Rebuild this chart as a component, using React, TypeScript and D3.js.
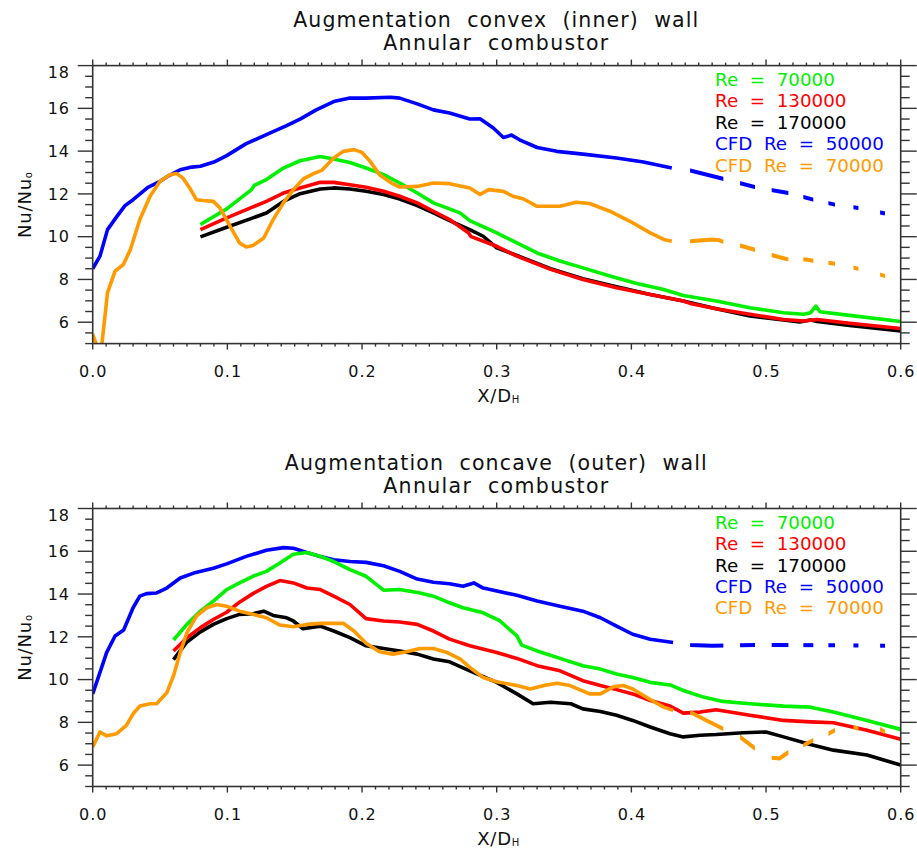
import React from "react";
import * as d3 from "d3";

type Pt = [number, number];

// ---- data ----
const xMajor = [0, 0.1, 0.2, 0.3, 0.4, 0.5, 0.6];
const yMajor = [6, 8, 10, 12, 14, 16, 18];
const legendLabels = ["Re  =  70000", "Re  =  130000", "Re  =  170000", "CFD  Re  =  50000", "CFD  Re  =  70000"];
const legendColors = ["#00f000", "#ff0000", "#000000", "#0000ff", "#ff9a00"];
// x-intervals where the dashed CFD extrapolation is drawn
const dashSpans: Pt[] = [
  [0.4436, 0.4683], [0.4807, 0.4918], [0.5042, 0.5166], [0.5277, 0.5351],
  [0.5463, 0.5512], [0.5649, 0.5686], [0.5847, 0.5884],
];

// convex (inner) wall
const convexCfd50: Pt[] = [
  [0, 8.5], [0.0054, 9.09], [0.011, 10.33], [0.018, 10.95], [0.024, 11.45], [0.03, 11.73], [0.041, 12.31],
  [0.05, 12.59], [0.057, 12.87], [0.065, 13.13], [0.072, 13.24], [0.08, 13.29], [0.09, 13.49], [0.0995, 13.79],
  [0.114, 14.35], [0.129, 14.77], [0.144, 15.19], [0.154, 15.5], [0.166, 15.93], [0.179, 16.32], [0.191, 16.48],
  [0.203, 16.48], [0.221, 16.52], [0.228, 16.48], [0.241, 16.21], [0.253, 15.93], [0.265, 15.78], [0.28, 15.5],
  [0.2876, 15.51], [0.2975, 15.08], [0.305, 14.64], [0.311, 14.75], [0.317, 14.53], [0.33, 14.17], [0.3446, 13.99],
  [0.364, 13.86], [0.389, 13.68], [0.409, 13.49], [0.43, 13.21],
];
const convexCfd50Ext: Pt[] = [
  [0.43, 13.21], [0.4436, 13.1], [0.468, 12.71], [0.4918, 12.32], [0.5166, 12.04], [0.535, 11.73],
  [0.551, 11.5], [0.5686, 11.34], [0.5884, 11.08],
];
const convexCfd70: Pt[] = [
  [0, 5.45], [0.003, 4.9], [0.005, 4.7], [0.0067, 4.9], [0.011, 7.38], [0.0166, 8.39], [0.0228, 8.7], [0.028, 9.4],
  [0.035, 10.8], [0.0426, 11.89], [0.05, 12.59], [0.0574, 12.9], [0.0624, 12.95], [0.067, 12.74], [0.072, 12.28],
  [0.077, 11.73], [0.082, 11.69], [0.0896, 11.65], [0.0946, 11.34], [0.102, 10.49], [0.109, 9.71], [0.114, 9.52],
  [0.119, 9.59], [0.127, 9.94], [0.134, 10.8], [0.1416, 11.58], [0.149, 12.2], [0.1564, 12.7], [0.164, 12.95],
  [0.17, 13.1], [0.179, 13.68], [0.186, 13.99], [0.194, 14.07], [0.2, 13.94], [0.206, 13.52], [0.213, 12.9],
  [0.221, 12.54], [0.228, 12.32], [0.241, 12.35], [0.253, 12.51], [0.265, 12.48], [0.28, 12.28], [0.2876, 11.97],
  [0.294, 12.2], [0.305, 12.12], [0.312, 11.89], [0.32, 11.76], [0.33, 11.42], [0.347, 11.42], [0.359, 11.61],
  [0.369, 11.55], [0.384, 11.19], [0.399, 10.72], [0.414, 10.18], [0.424, 9.87], [0.43, 9.79],
];
const convexCfd70Ext: Pt[] = [
  [0.43, 9.79], [0.4436, 9.79], [0.46, 9.87], [0.465, 9.84], [0.474, 9.63], [0.48, 9.6], [0.491, 9.4],
  [0.5, 9.21], [0.515, 8.96], [0.53, 8.93], [0.537, 8.85], [0.556, 8.7], [0.575, 8.39], [0.593, 8.08],
];
const convexRe70: Pt[] = [
  [0.08, 10.57], [0.0995, 11.3], [0.118, 12.2], [0.12, 12.4], [0.129, 12.67], [0.1416, 13.21], [0.154, 13.55],
  [0.169, 13.75], [0.179, 13.63], [0.191, 13.47], [0.203, 13.21], [0.216, 12.9], [0.228, 12.51], [0.241, 12.04],
  [0.253, 11.58], [0.2727, 11.11], [0.28, 10.75], [0.3, 10.18], [0.315, 9.71], [0.33, 9.24], [0.347, 8.86],
  [0.364, 8.54], [0.384, 8.16], [0.404, 7.81], [0.424, 7.53], [0.4386, 7.25], [0.463, 6.99], [0.488, 6.68],
  [0.513, 6.44], [0.528, 6.37], [0.533, 6.44], [0.537, 6.75], [0.54, 6.49], [0.562, 6.32], [0.6, 6.03],
];
const convexRe130: Pt[] = [
  [0.08, 10.33], [0.0995, 10.88], [0.119, 11.39], [0.129, 11.65], [0.1416, 12.04], [0.154, 12.28], [0.169, 12.54],
  [0.179, 12.54], [0.191, 12.43], [0.203, 12.31], [0.216, 12.12], [0.228, 11.89], [0.241, 11.58], [0.253, 11.19],
  [0.265, 10.8], [0.279, 10.18], [0.281, 10.0], [0.3, 9.55], [0.315, 9.09], [0.34, 8.47], [0.364, 8.0],
  [0.389, 7.61], [0.414, 7.3], [0.4386, 6.99], [0.4436, 6.88], [0.463, 6.63], [0.488, 6.37], [0.513, 6.13],
  [0.528, 6.06], [0.538, 6.13], [0.562, 5.95], [0.6, 5.71],
];
const convexRe170: Pt[] = [
  [0.08, 9.99], [0.0995, 10.44], [0.119, 10.88], [0.129, 11.11], [0.1416, 11.65], [0.154, 12.01], [0.169, 12.23],
  [0.179, 12.28], [0.191, 12.23], [0.203, 12.12], [0.216, 11.97], [0.228, 11.76], [0.241, 11.45], [0.253, 11.11],
  [0.265, 10.75], [0.28, 10.33], [0.29, 10.02], [0.3, 9.48], [0.315, 9.12], [0.34, 8.5], [0.364, 8.03],
  [0.389, 7.66], [0.414, 7.3], [0.4386, 6.99], [0.463, 6.63], [0.488, 6.29], [0.513, 6.1], [0.525, 6.01],
  [0.533, 6.1], [0.538, 6.03], [0.562, 5.85], [0.6, 5.59],
];

// concave (outer) wall
const concaveCfd50: Pt[] = [
  [0, 9.33], [0.0054, 10.34], [0.0104, 11.27], [0.0166, 12.04], [0.023, 12.32], [0.03, 13.36], [0.035, 13.9],
  [0.04, 14.02], [0.0475, 14.05], [0.055, 14.28], [0.065, 14.75], [0.075, 14.98], [0.0896, 15.21], [0.0995, 15.41],
  [0.114, 15.76], [0.129, 16.05], [0.1416, 16.17], [0.149, 16.14], [0.159, 15.94], [0.169, 15.76], [0.179, 15.6],
  [0.191, 15.52], [0.203, 15.48], [0.216, 15.32], [0.228, 15.06], [0.241, 14.7], [0.253, 14.55], [0.265, 14.48],
  [0.275, 14.36], [0.283, 14.52], [0.29, 14.28], [0.315, 13.94], [0.33, 13.67], [0.347, 13.43], [0.364, 13.2],
  [0.377, 12.89], [0.389, 12.5], [0.401, 12.12], [0.414, 11.89], [0.431, 11.73],
];
const concaveCfd50Ext: Pt[] = [
  [0.431, 11.73], [0.4436, 11.62], [0.46, 11.58], [0.5, 11.62], [0.55, 11.6], [0.5884, 11.58],
];
const concaveCfd70: Pt[] = [
  [0, 6.85], [0.0054, 7.55], [0.0104, 7.37], [0.0178, 7.47], [0.025, 7.86], [0.03, 8.4], [0.035, 8.76],
  [0.0426, 8.87], [0.0475, 8.87], [0.055, 9.38], [0.06, 10.18], [0.065, 11.27], [0.07, 12.2], [0.077, 12.97],
  [0.0847, 13.36], [0.092, 13.51], [0.0995, 13.43], [0.109, 13.2], [0.119, 13.05], [0.129, 12.89], [0.139, 12.55],
  [0.149, 12.47], [0.159, 12.58], [0.169, 12.63], [0.186, 12.63], [0.194, 12.27], [0.203, 11.7], [0.213, 11.3],
  [0.223, 11.19], [0.233, 11.3], [0.243, 11.45], [0.253, 11.45], [0.263, 11.27], [0.273, 10.96], [0.28, 10.57],
  [0.29, 10.1], [0.3, 9.9], [0.315, 9.72], [0.325, 9.56], [0.335, 9.72], [0.3446, 9.83], [0.3545, 9.72],
  [0.369, 9.33], [0.377, 9.33], [0.387, 9.67], [0.394, 9.72], [0.401, 9.56], [0.414, 9.07], [0.424, 8.71],
  [0.431, 8.56],
];
const concaveCfd70Ext: Pt[] = [
  [0.431, 8.56], [0.4436, 8.48], [0.468, 7.7], [0.4807, 7.32], [0.4918, 6.78], [0.5042, 6.34], [0.51, 6.31],
  [0.5166, 6.6], [0.5277, 6.93], [0.5351, 7.16], [0.5463, 7.47], [0.5512, 7.63], [0.5649, 7.78], [0.5686, 7.7],
  [0.5847, 7.68], [0.5884, 7.55],
];
const concaveRe70: Pt[] = [
  [0.06, 11.85], [0.07, 12.58], [0.08, 13.2], [0.0896, 13.67], [0.0995, 14.21], [0.109, 14.52], [0.119, 14.83],
  [0.129, 15.06], [0.139, 15.45], [0.149, 15.86], [0.159, 15.94], [0.169, 15.76], [0.179, 15.52], [0.191, 15.14],
  [0.203, 14.83], [0.216, 14.18], [0.228, 14.21], [0.243, 14.05], [0.253, 13.9], [0.265, 13.59], [0.275, 13.36],
  [0.29, 13.12], [0.3025, 12.74], [0.315, 12.04], [0.3186, 11.61], [0.33, 11.34], [0.347, 10.99], [0.364, 10.65],
  [0.377, 10.49], [0.389, 10.26], [0.401, 10.1], [0.414, 9.87], [0.4287, 9.75], [0.4386, 9.49], [0.4535, 9.18],
  [0.468, 8.98], [0.488, 8.87], [0.513, 8.76], [0.533, 8.71], [0.55, 8.48], [0.575, 8.09], [0.6, 7.67],
];
const concaveRe130: Pt[] = [
  [0.06, 11.34], [0.07, 11.96], [0.08, 12.43], [0.0896, 12.81], [0.0995, 13.15], [0.109, 13.62], [0.119, 14.02],
  [0.129, 14.36], [0.139, 14.63], [0.149, 14.52], [0.159, 14.28], [0.169, 14.21], [0.179, 13.9], [0.191, 13.51],
  [0.203, 12.85], [0.216, 12.74], [0.228, 12.69], [0.241, 12.58], [0.253, 12.27], [0.265, 11.89], [0.28, 11.58],
  [0.3, 11.27], [0.315, 10.99], [0.33, 10.65], [0.347, 10.41], [0.364, 9.95], [0.377, 9.72], [0.389, 9.53],
  [0.401, 9.33], [0.414, 9.02], [0.4287, 8.76], [0.4386, 8.43], [0.451, 8.48], [0.463, 8.59], [0.488, 8.33],
  [0.513, 8.09], [0.533, 8.02], [0.55, 7.98], [0.575, 7.63], [0.6, 7.21],
];
const concaveRe170: Pt[] = [
  [0.06, 10.93], [0.07, 11.76], [0.08, 12.23], [0.0896, 12.58], [0.0995, 12.85], [0.109, 13.05], [0.119, 13.08],
  [0.127, 13.2], [0.134, 13.0], [0.144, 12.89], [0.149, 12.74], [0.156, 12.38], [0.169, 12.5], [0.179, 12.27],
  [0.191, 11.96], [0.203, 11.58], [0.216, 11.45], [0.228, 11.34], [0.241, 11.19], [0.253, 10.96], [0.265, 10.83],
  [0.28, 10.41], [0.3, 9.87], [0.315, 9.33], [0.327, 8.87], [0.34, 8.94], [0.355, 8.87], [0.364, 8.63],
  [0.377, 8.51], [0.389, 8.33], [0.401, 8.09], [0.414, 7.78], [0.4287, 7.47], [0.4386, 7.32], [0.451, 7.4],
  [0.463, 7.43], [0.483, 7.51], [0.5, 7.55], [0.513, 7.32], [0.533, 6.96], [0.55, 6.7], [0.575, 6.47], [0.6, 6.0],
];

const W = 917;
const H = 850;
const LEFT = 92.7;
const RIGHT = 900.7;
const PH = 278;
const FONT = "'DejaVu Sans', sans-serif";
const AXIS = "#333";

type PanelProps = {
  id: string;
  top: number;
  title: string;
  titleWidth: number;
  cfd50: Pt[];
  cfd50Ext: Pt[];
  cfd70: Pt[];
  cfd70Ext: Pt[];
  re70: Pt[];
  re130: Pt[];
  re170: Pt[];
};

function Panel(p: PanelProps) {
  const x = d3.scaleLinear().domain([0, 0.6]).range([LEFT, RIGHT]);
  const y = d3.scaleLinear().domain([5, 18]).range([p.top + PH, p.top]);
  const line = d3.line<Pt>().x((d) => x(d[0])).y((d) => y(d[1]));
  const bottom = p.top + PH;
  const xMinor = d3.range(0, 61).map((i) => i / 100);
  const yMinor = d3.range(10, 37).map((i) => i / 2);
  const mid = (LEFT + RIGHT) / 2;

  const solid = [
    { d: p.cfd50, c: legendColors[3] },
    { d: p.re170, c: legendColors[2] },
    { d: p.re130, c: legendColors[1] },
    { d: p.re70, c: legendColors[0] },
    { d: p.cfd70, c: legendColors[4] },
  ];
  const ext = [
    { d: p.cfd50Ext, c: legendColors[3] },
    { d: p.cfd70Ext, c: legendColors[4] },
  ];

  return (
    <g>
      <defs>
        <clipPath id={`plot-${p.id}`}>
          <rect x={LEFT} y={p.top} width={RIGHT - LEFT} height={PH} />
        </clipPath>
        <clipPath id={`dash-${p.id}`}>
          {dashSpans.map((s, i) => (
            <rect key={i} x={x(s[0])} y={p.top} width={x(s[1]) - x(s[0])} height={PH} />
          ))}
        </clipPath>
      </defs>

      {/* title */}
      <text x={mid - 1} y={p.top - 38.5} textAnchor="middle" fontSize={20.5} fill="#111"
        xmlSpace="preserve" textLength={p.titleWidth} lengthAdjust="spacing">{p.title}</text>
      <text x={mid - 1} y={p.top - 15.8} textAnchor="middle" fontSize={20.5} fill="#111"
        xmlSpace="preserve" textLength={225} lengthAdjust="spacing">{"Annular  combustor"}</text>

      {/* curves */}
      <g clipPath={`url(#plot-${p.id})`} fill="none" strokeLinejoin="round">
        {solid.map((s, i) => (
          <path key={i} d={line(s.d) || ""} stroke={s.c} strokeWidth={3.6} />
        ))}
      </g>
      <g clipPath={`url(#dash-${p.id})`} fill="none">
        {ext.map((s, i) => (
          <path key={i} d={line(s.d) || ""} stroke={s.c} strokeWidth={4} />
        ))}
      </g>

      {/* frame */}
      <rect x={LEFT} y={p.top} width={RIGHT - LEFT} height={PH} fill="none" stroke={AXIS} strokeWidth={1.6} />

      {/* ticks on all four sides, pointing outward */}
      <g stroke={AXIS} strokeWidth={1.4}>
        {xMinor.map((v, i) => {
          const len = i % 10 === 0 ? 6 : 3;
          return (
            <g key={i}>
              <line x1={x(v)} x2={x(v)} y1={bottom} y2={bottom + len} />
              <line x1={x(v)} x2={x(v)} y1={p.top} y2={p.top - len} />
            </g>
          );
        })}
        {yMinor.map((v, i) => {
          const major = v % 2 === 0;
          return (
            <g key={i}>
              <line x1={LEFT} x2={LEFT - (major ? 15 : 7.5)} y1={y(v)} y2={y(v)} />
              <line x1={RIGHT} x2={RIGHT + (major ? 16 : 9)} y1={y(v)} y2={y(v)} />
            </g>
          );
        })}
      </g>

      {/* tick labels */}
      <g fontSize={16} fill="#111" letterSpacing={1}>
        {xMajor.map((v) => (
          <text key={v} x={x(v) + 0.5} y={bottom + 33.5} textAnchor="middle">{d3.format(".1f")(v)}</text>
        ))}
        {yMajor.map((v) => (
          <text key={v} x={70} y={Math.max(y(v), p.top + 7) + 5.8} textAnchor="end">{v}</text>
        ))}
      </g>

      {/* axis titles */}
      <text x={mid + 2} y={bottom + 58} textAnchor="middle" fontSize={18} fill="#111" letterSpacing={0.8}>
        X/D<tspan fontSize={10} dy={1}>H</tspan>
      </text>
      <text transform={`translate(31,${(p.top + bottom) / 2}) rotate(-90)`} textAnchor="middle"
        fontSize={18} fill="#111" letterSpacing={0.8}>
        Nu/Nu<tspan fontSize={10} dy={1}>o</tspan>
      </text>

      {/* legend */}
      <g fontSize={18.3}>
        {legendLabels.map((t, i) => (
          <text key={t} x={715} y={p.top + 20.3 + i * 21.4} fill={legendColors[i]} xmlSpace="preserve">{t}</text>
        ))}
      </g>
    </g>
  );
}

export default function App() {
  return (
    <svg width={W} height={H} style={{ position: "absolute", left: 0, top: 0, background: "#fff" }}
      fontFamily={FONT}>
      <rect width={W} height={H} fill="#fff" />
      <Panel id="convex" top={65.6} title="Augmentation  convex  (inner)  wall" titleWidth={405}
        cfd50={convexCfd50} cfd50Ext={convexCfd50Ext} cfd70={convexCfd70} cfd70Ext={convexCfd70Ext}
        re70={convexRe70} re130={convexRe130} re170={convexRe170} />
      <Panel id="concave" top={508.5} title="Augmentation  concave  (outer)  wall" titleWidth={422}
        cfd50={concaveCfd50} cfd50Ext={concaveCfd50Ext} cfd70={concaveCfd70} cfd70Ext={concaveCfd70Ext}
        re70={concaveRe70} re130={concaveRe130} re170={concaveRe170} />
    </svg>
  );
}
